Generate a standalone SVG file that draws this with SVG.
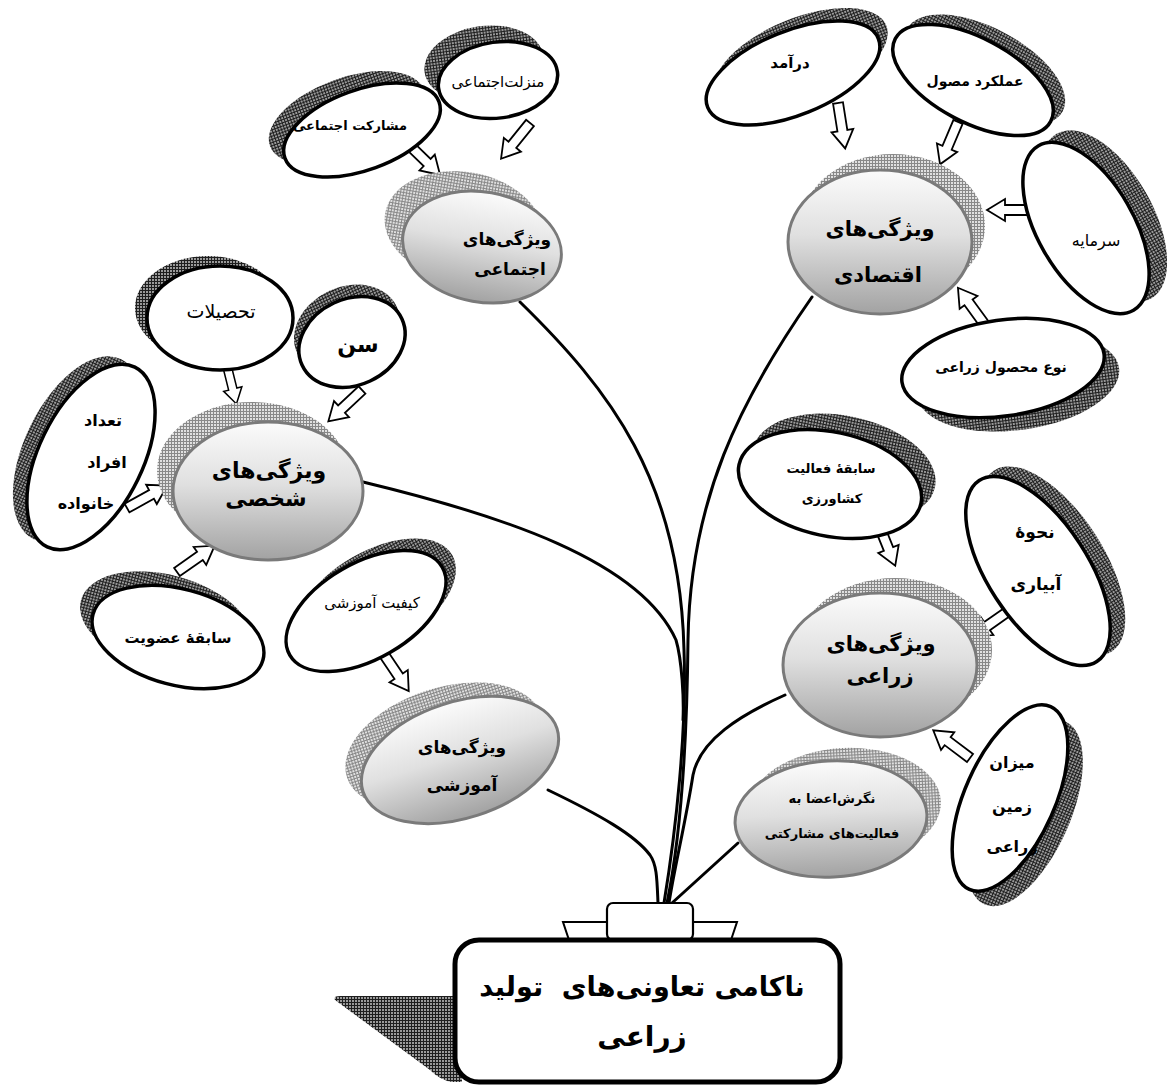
<svg xmlns="http://www.w3.org/2000/svg" xmlns:xlink="http://www.w3.org/1999/xlink" width="1167" height="1088" viewBox="0 0 1167 1088">
<style>
.wn{fill:#fff;stroke:#000;stroke-width:3.5}
.gn{fill:url(#gGrad);stroke:#7a7a7a;stroke-width:3}
.sd{fill:url(#hDark)}
.sl{fill:url(#hLight)}
.t{font-family:"DejaVu Sans",sans-serif;text-anchor:middle;fill:#000;direction:rtl}
.b{font-weight:bold}
.pre{white-space:pre}
.con{fill:none;stroke:#000;stroke-width:3;stroke-linecap:round}
.ar{fill:#fff;stroke:#000;stroke-width:1.8;stroke-linejoin:miter}
</style>
<defs>
<pattern id="hDark" width="3" height="3" patternUnits="userSpaceOnUse">
<rect width="3" height="3" fill="#9a9a9a"/>
<path d="M0,0.5H3M0.5,0V3" stroke="#1e1e1e" stroke-width="1"/>
</pattern>
<pattern id="hLight" width="3" height="3" patternUnits="userSpaceOnUse">
<rect width="3" height="3" fill="#e0e0e0"/>
<path d="M0,0.5H3M0.5,0V3" stroke="#888" stroke-width="1"/>
</pattern>
<linearGradient id="gGrad" x1="0" y1="0" x2="0" y2="1">
<stop offset="0" stop-color="#fbfbfb"/>
<stop offset="0.45" stop-color="#e0e0e0"/>
<stop offset="1" stop-color="#a2a2a2"/>
</linearGradient>
<path id="bar" class="ar" d="M0,-5 H28 V-11 L46,0 L28,11 V5 H0 Z"/>
</defs>
<rect width="1167" height="1088" fill="#fff"/>

<g id="connectors">
<path class="con" d="M520,302 C610,390 680,480 684,650 C687,730 676,830 664,903"/>
<path class="con" d="M812,297 C740,400 690,500 688,640 C687,740 682,830 667,903"/>
<path class="con" d="M363,482 C500,515 640,560 676,640 C682,660 684,700 683,720"/>
<path class="con" d="M785,695 C740,715 700,740 693,775 C686,820 674,870 669,903"/>
<path class="con" d="M548,790 C600,815 635,835 650,855 C657,865 657,880 658,903"/>
<path class="con" d="M738,843 L672,903"/>
</g>

<g id="arrows">
<use href="#bar" transform="translate(407,143) rotate(44)"/>
<use href="#bar" transform="translate(530,123) rotate(129)"/>
<use href="#bar" transform="translate(838,103) rotate(81)"/>
<use href="#bar" transform="translate(958,122) rotate(113)"/>
<use href="#bar" transform="translate(1033,210) rotate(180)"/>
<use href="#bar" transform="translate(985,325) rotate(234)"/>
<use href="#bar" transform="translate(227,366) rotate(76) scale(0.85)"/>
<use href="#bar" transform="translate(362,390) rotate(137)"/>
<use href="#bar" transform="translate(127,508) rotate(-29)"/>
<use href="#bar" transform="translate(177,572) rotate(-35)"/>
<use href="#bar" transform="translate(383,653) rotate(56)"/>
<use href="#bar" transform="translate(878,523) rotate(68)"/>
<use href="#bar" transform="translate(1010,610) rotate(145)"/>
<use href="#bar" transform="translate(970,758) rotate(217)"/>
</g>

<g id="n-manzelat" transform="translate(498,80)">
<ellipse class="sd" rx="60" ry="38" transform="translate(-14,-16) rotate(-8)"/>
<ellipse class="wn" rx="60" ry="38" transform="rotate(-8)"/>
<text class="t" x="0" y="7" font-size="15">منزلت‌اجتماعی</text>
</g>
<g id="n-mosharekat" transform="translate(362,130)">
<ellipse class="sd" rx="82" ry="40" transform="translate(-15,-12) rotate(-20)"/>
<ellipse class="wn" rx="82" ry="40" transform="rotate(-20)"/>
<text class="t b" x="-12" y="0" font-size="13">مشارکت اجتماعی</text>
</g>
<g id="n-daramad" transform="translate(793,73)">
<ellipse class="sd" rx="92" ry="42" transform="translate(8,-13) rotate(-22)"/>
<ellipse class="wn" rx="92" ry="42" transform="rotate(-22)"/>
<text class="t b" x="-3" y="-5" font-size="15">درآمد</text>
</g>
<g id="n-amalkard" transform="translate(973,80)">
<ellipse class="sd" rx="88" ry="42" transform="translate(12,-10) rotate(28)"/>
<ellipse class="wn" rx="88" ry="42" transform="rotate(28)"/>
<text class="t b" x="2" y="6" font-size="14">عملکرد مصول</text>
</g>
<g id="n-sarmaye" transform="translate(1086,228)">
<ellipse class="sd" rx="95" ry="48" transform="translate(18,-12) rotate(60)"/>
<ellipse class="wn" rx="95" ry="48" transform="rotate(60)"/>
<text class="t" x="10" y="18" font-size="16">سرمایه</text>
</g>
<g id="n-noe" transform="translate(1003,368)">
<ellipse class="sd" rx="102" ry="48" transform="translate(15,14) rotate(-8)"/>
<ellipse class="wn" rx="102" ry="48" transform="rotate(-8)"/>
<text class="t b" x="-2" y="4" font-size="14">نوع محصول زراعی</text>
</g>
<g id="n-tahsilat" transform="translate(220,318)">
<ellipse class="sd" rx="73" ry="52" transform="translate(-12,-10)"/>
<ellipse class="wn" rx="73" ry="52"/>
<text class="t" x="1" y="0" font-size="19">تحصیلات</text>
</g>
<g id="n-sen" transform="translate(352,342)">
<ellipse class="sd" rx="55" ry="43" transform="translate(-5,-12) rotate(-25)"/>
<ellipse class="wn" rx="55" ry="43" transform="rotate(-25)"/>
<text class="t b" x="6" y="10" font-size="22">سن</text>
</g>
<g id="n-khanevade" transform="translate(91,457)">
<ellipse class="sd" rx="100" ry="52" transform="translate(-14,-8) rotate(-64)"/>
<ellipse class="wn" rx="100" ry="52" transform="rotate(-64)"/>
<text class="t b" x="12" y="-31" font-size="16">تعداد</text>
<text class="t b" x="16" y="11" font-size="16">افراد</text>
<text class="t b" x="-5" y="52" font-size="16">خانواده</text>
</g>
<g id="n-ozviat" transform="translate(178,637)">
<ellipse class="sd" rx="88" ry="48" transform="translate(-12,-14) rotate(15)"/>
<ellipse class="wn" rx="88" ry="48" transform="rotate(15)"/>
<text class="t b" x="0" y="6" font-size="15">سابقهٔ عضویت</text>
</g>
<g id="n-keyfiat" transform="translate(366,611)">
<ellipse class="sd" rx="88" ry="48" transform="translate(10,-12) rotate(-30)"/>
<ellipse class="wn" rx="88" ry="48" transform="rotate(-30)"/>
<text class="t" x="6" y="-3" font-size="15">کیفیت آموزشی</text>
</g>
<g id="n-keshavarzi" transform="translate(830,484)">
<ellipse class="sd" rx="93" ry="52" transform="translate(14,-16) rotate(12)"/>
<ellipse class="wn" rx="93" ry="52" transform="rotate(12)"/>
<text class="t b" x="1" y="-11" font-size="13">سابقهٔ فعالیت</text>
<text class="t b" x="2" y="19" font-size="13">کشاورزی</text>
</g>
<g id="n-abyari" transform="translate(1038,571)">
<ellipse class="sd" rx="108" ry="50" transform="translate(15,-10) rotate(57)"/>
<ellipse class="wn" rx="108" ry="50" transform="rotate(57)"/>
<text class="t b" x="-3" y="-33" font-size="17">نحوهٔ</text>
<text class="t b" x="-2" y="19" font-size="17">آبیاری</text>
</g>
<g id="n-mizan" transform="translate(1010,798)">
<ellipse class="sd" rx="100" ry="45" transform="translate(15,15) rotate(-66)"/>
<ellipse class="wn" rx="100" ry="45" transform="rotate(-66)"/>
<text class="t b" x="2" y="-30" font-size="16">میزان</text>
<text class="t b" x="2" y="14" font-size="16">زمین</text>
<text class="t b" x="2" y="54" font-size="16">زراعی</text>
</g>

<g id="g-ejtemai" transform="translate(482,247)">
<ellipse class="sl" rx="80" ry="55" transform="translate(-18,-20) rotate(10)"/>
<ellipse class="gn" rx="80" ry="55" transform="rotate(10)"/>
<text class="t b" x="25" y="-2" font-size="17">ویژگی‌های</text>
<text class="t b" x="28" y="28" font-size="17">اجتماعی</text>
</g>
<g id="g-eqtesadi" transform="translate(880,242)">
<ellipse class="sl" rx="92" ry="72" transform="translate(13,-16)"/>
<ellipse class="gn" rx="92" ry="72"/>
<text class="t b" x="0" y="-6" font-size="21">ویژگی‌های</text>
<text class="t b" x="-2" y="40" font-size="21">اقتصادی</text>
</g>
<g id="g-shakhsi" transform="translate(268,491)">
<ellipse class="sl" rx="95" ry="69" transform="translate(-16,-20)"/>
<ellipse class="gn" rx="95" ry="69"/>
<text class="t b" x="1" y="-13" font-size="22">ویژگی‌های</text>
<text class="t b" x="-2" y="15" font-size="22">شخصی</text>
</g>
<g id="g-amoozeshi" transform="translate(460,760)">
<ellipse class="sl" rx="102" ry="58" transform="translate(-16,-14) rotate(-18)"/>
<ellipse class="gn" rx="102" ry="58" transform="rotate(-18)"/>
<text class="t b" x="2" y="-7" font-size="17">ویژگی‌های</text>
<text class="t b" x="2" y="31" font-size="17">آموزشی</text>
</g>
<g id="g-zeraei" transform="translate(880,665)">
<ellipse class="sl" rx="97" ry="72" transform="translate(15,-15)"/>
<ellipse class="gn" rx="97" ry="72"/>
<text class="t b" x="1" y="-14" font-size="21">ویژگی‌های</text>
<text class="t b" x="0" y="18" font-size="21">زراعی</text>
</g>
<g id="g-negaresh" transform="translate(831,819)">
<ellipse class="sl" rx="96" ry="58" transform="translate(14,-13) rotate(-3)"/>
<ellipse class="gn" rx="96" ry="58" transform="rotate(-3)"/>
<text class="t b" x="1" y="-16" font-size="13">نگرش‌اعضا به</text>
<text class="t b" x="1" y="19" font-size="13">فعالیت‌های مشارکتی</text>
</g>

<g id="root">
<path d="M335,1000 Q333,996 340,996 L460,996 L462,1082 L452,1082 Q440,1080 430,1070 Z" fill="url(#hDark)"/>
<path d="M563,922 H737 L731,940 H569 Z" fill="#fff" stroke="#000" stroke-width="2"/>
<rect x="607" y="903" width="86" height="37" rx="6" fill="#fff" stroke="#000" stroke-width="2.2"/>
<rect x="455" y="940" width="385" height="142" rx="24" fill="#fff" stroke="#000" stroke-width="5"/>
<text class="t b pre" x="642" y="996" font-size="27" xml:space="preserve">ناکامی تعاونی‌های  تولید</text>
<text class="t b" x="642" y="1046" font-size="28">زراعی</text>
</g>
</svg>
